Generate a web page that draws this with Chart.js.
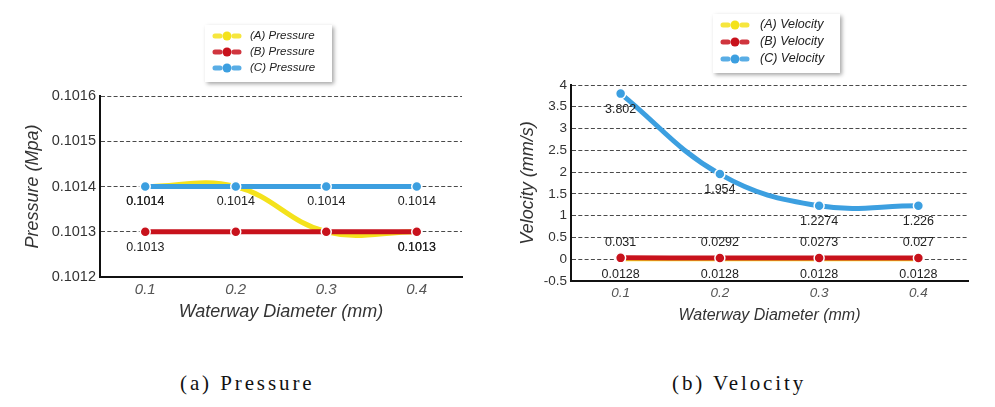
<!DOCTYPE html>
<html>
<head>
<meta charset="utf-8">
<title>Pressure and Velocity</title>
<script src="https://cdn.jsdelivr.net/npm/chart.js@4.4.0/dist/chart.umd.min.js"></script>
<style>
  body { margin: 0; background: #fff; width: 995px; height: 407px; position: relative; overflow: hidden; }
  canvas { position: absolute; top: 0; }
  #pressureChart { left: 0; }
  #velocityChart { left: 490px; }
  .caption { position: absolute; top: 371px; font-family: "Liberation Serif", "DejaVu Serif", serif; font-size: 21px; letter-spacing: 2.9px; color: #111; white-space: pre; }
</style>
</head>
<body>
<canvas id="pressureChart" width="490" height="340"></canvas>
<canvas id="velocityChart" width="505" height="340"></canvas>
<div class="caption" style="left:180px">(a) Pressure</div>
<div class="caption" style="left:672px">(b) Velocity</div>

<script>
// Chart data
const categories = ["0.1", "0.2", "0.3", "0.4"];

const pressureA = [0.1014, 0.1014, 0.1013, 0.1013];
const pressureB = [0.1013, 0.1013, 0.1013, 0.1013];
const pressureC = [0.1014, 0.1014, 0.1014, 0.1014];
const pressureTicks = [0.1012, 0.1013, 0.1014, 0.1015, 0.1016];
const pressureTickLabels = ["0.1012", "0.1013", "0.1014", "0.1015", "0.1016"];

const velocityA = [0.0128, 0.0128, 0.0128, 0.0128];
const velocityB = [0.031, 0.0292, 0.0273, 0.027];
const velocityC = [3.802, 1.954, 1.2274, 1.226];
const velocityTicks = [-0.5, 0, 0.5, 1, 1.5, 2, 2.5, 3, 3.5, 4];
const velocityTickLabels = ["-0.5", "0", "0.5", "1", "1.5", "2", "2.5", "3", "3.5", "4"];

const YELLOW = "#f4e21c";
const RED = "#c8121c";
const BLUE = "#3c9fe0";
const FONT = "'Liberation Sans', Arial, sans-serif";

Chart.defaults.font.family = FONT;

// Legend drawn as a white box with a drop shadow
const boxLegend = {
    id: "boxLegend",
    afterDraw(chart, args, opts) {
        const { ctx } = chart;
        ctx.save();
        ctx.shadowColor = "rgba(0,0,0,0.35)";
        ctx.shadowBlur = 4;
        ctx.shadowOffsetX = 2;
        ctx.shadowOffsetY = 2;
        ctx.fillStyle = "#fff";
        ctx.fillRect(opts.x, opts.y, opts.w, opts.h);
        ctx.restore();

        chart.data.datasets.forEach((ds, i) => {
            const y = opts.rowY[i];
            const x = opts.symX;
            ctx.save();
            ctx.strokeStyle = ds.borderColor;
            ctx.globalAlpha = 0.85;
            ctx.lineWidth = 5;
            ctx.lineCap = "round";
            ctx.beginPath();
            ctx.moveTo(x + 3, y);
            ctx.lineTo(x + 8, y);
            ctx.moveTo(x + 22, y);
            ctx.lineTo(x + 27, y);
            ctx.stroke();
            ctx.globalAlpha = 1;
            ctx.fillStyle = ds.borderColor;
            ctx.beginPath();
            ctx.arc(x + 15, y, 4.5, 0, Math.PI * 2);
            ctx.fill();
            ctx.fillStyle = "#222";
            ctx.font = `italic ${opts.fontSize}px ${FONT}`;
            ctx.textAlign = "left";
            ctx.textBaseline = "middle";
            ctx.fillText(ds.label, opts.textX, y);
            ctx.restore();
        });
    }
};

// Value labels next to the points
const pointLabels = {
    id: "pointLabels",
    afterDatasetsDraw(chart, args, opts) {
        const { ctx } = chart;
        ctx.save();
        ctx.font = `${opts.fontSize}px ${FONT}`;
        ctx.fillStyle = "#222";
        ctx.textAlign = "center";
        ctx.textBaseline = "middle";
        chart.data.datasets.forEach((ds, i) => {
            const meta = chart.getDatasetMeta(i);
            meta.data.forEach((pt, j) => {
                if (ds.labelAt && !ds.labelAt.includes(j)) return;
                const dy = ds.labelSide === "above" ? -opts.gap : opts.gap;
                ctx.fillText(String(ds.data[j]), pt.x, pt.y + dy);
            });
        });
        ctx.restore();
    }
};

function lineSet(label, data, color, order, labelSide, labelAt) {
    return {
        label,
        data,
        borderColor: color,
        backgroundColor: color,
        pointBackgroundColor: color,
        pointBorderColor: "#fff",
        pointBorderWidth: 1.5,
        pointRadius: 5,
        borderWidth: 5,
        borderCapStyle: "round",
        tension: 0.4,
        fill: false,
        order,
        labelSide,
        labelAt
    };
}

function makeChart(id, s) {
    const ctx = document.getElementById(id).getContext("2d");
    return new Chart(ctx, {
        type: "line",
        data: { labels: categories, datasets: s.datasets },
        plugins: [boxLegend, pointLabels],
        options: {
            responsive: false,
            animation: false,
            layout: { padding: s.padding },
            plugins: {
                legend: { display: false },
                tooltip: { enabled: false },
                boxLegend: s.legend,
                pointLabels: { fontSize: 12.5, gap: 15.5 }
            },
            scales: {
                x: {
                    offset: true,
                    grid: { drawOnChartArea: false, drawTicks: false },
                    border: { display: true, color: "#111", width: 2 },
                    ticks: { padding: 4, color: "#555", font: { size: s.xTickSize, style: "italic" } },
                    title: { display: true, text: "Waterway Diameter (mm)", color: "#333",
                             font: { size: s.xTitleSize, style: "italic" }, padding: { top: 4, bottom: 4 } },
                    afterFit: (scale) => { scale.height = s.xHeight; }
                },
                y: {
                    min: s.ticks[0],
                    max: s.ticks[s.ticks.length - 1],
                    afterBuildTicks: (scale) => { scale.ticks = s.ticks.map(value => ({ value })); },
                    grid: { color: "#4a4a4a", lineWidth: 1, drawTicks: false },
                    border: { display: true, color: "#111", width: 2, dash: [4, 2.3] },
                    ticks: {
                        padding: 4,
                        color: "#333",
                        font: { size: s.yTickSize },
                        callback: (v, i) => s.tickLabels[i]
                    },
                    title: { display: true, text: s.yTitle, color: "#333",
                             font: { size: 18, style: "italic" }, padding: { top: 4, bottom: 4 } },
                    afterFit: (scale) => { scale.width = s.yWidth; }
                }
            }
        }
    });
}

document.addEventListener("DOMContentLoaded", () => {
    makeChart("pressureChart", {
        datasets: [
            lineSet("(A) Pressure", pressureA, YELLOW, 3, "below", [0, 3]),
            lineSet("(B) Pressure", pressureB, RED, 2, "below", [0, 3]),
            lineSet("(C) Pressure", pressureC, BLUE, 1, "below", [0, 1, 2, 3])
        ],
        ticks: pressureTicks,
        tickLabels: pressureTickLabels,
        yTitle: "Pressure (Mpa)",
        padding: { left: 18, right: 28, top: 96, bottom: 13 },
        yWidth: 82,
        xHeight: 50,
        yTickSize: 14.5,
        xTickSize: 15,
        xTitleSize: 18,
        legend: { x: 205, y: 25, w: 127, h: 57, symX: 212, textX: 250, rowY: [36, 52, 68], fontSize: 11.5 }
    });

    makeChart("velocityChart", {
        datasets: [
            lineSet("(A) Velocity", velocityA, YELLOW, 3, "below", null),
            lineSet("(B) Velocity", velocityB, RED, 2, "above", null),
            lineSet("(C) Velocity", velocityC, BLUE, 1, "below", null)
        ],
        ticks: velocityTicks,
        tickLabels: velocityTickLabels,
        yTitle: "Velocity (mm/s)",
        padding: { left: 23, right: 27, top: 85, bottom: 11 },
        yWidth: 58,
        xHeight: 48,
        yTickSize: 13.5,
        xTickSize: 13.5,
        xTitleSize: 16,
        legend: { x: 223, y: 14, w: 127, h: 59, symX: 230, textX: 270, rowY: [25, 42, 59], fontSize: 12.5 }
    });
});
</script>
</body>
</html>
